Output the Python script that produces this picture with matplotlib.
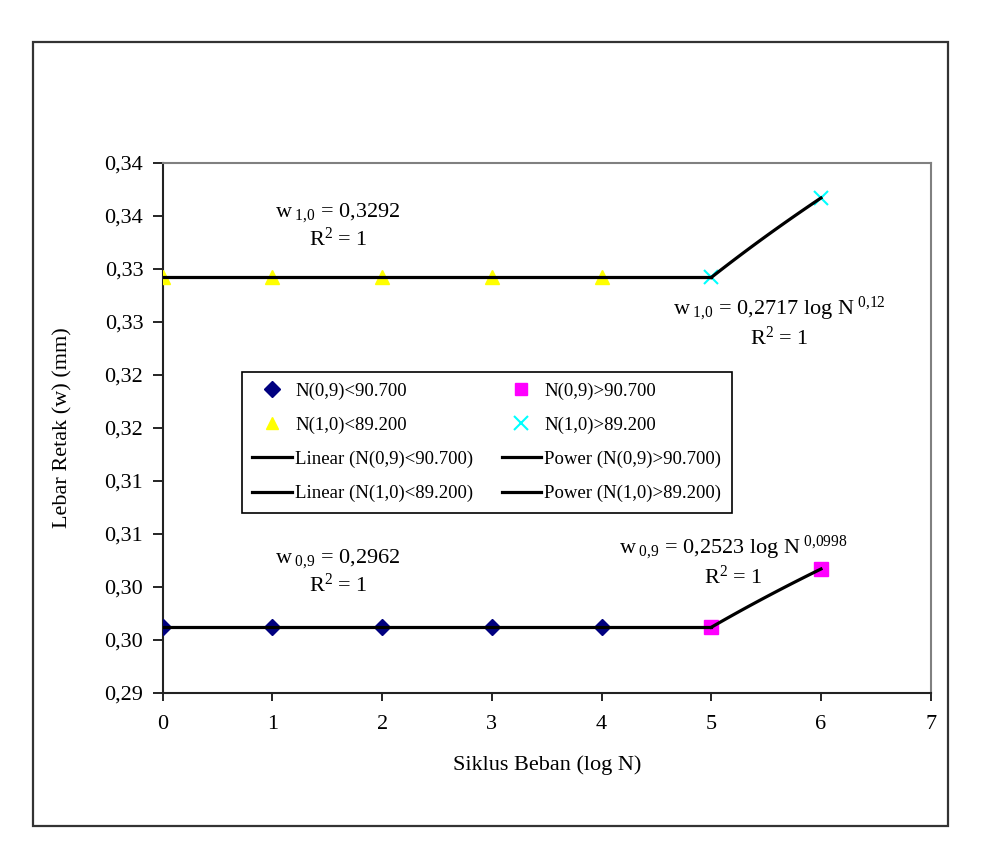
import numpy as np
import matplotlib
matplotlib.use("Agg")
import matplotlib.pyplot as plt
from matplotlib.patches import Rectangle
from matplotlib.lines import Line2D

plt.rcParams['font.family'] = ['Liberation Serif', 'DejaVu Serif']
plt.rcParams['mathtext.fontset'] = 'custom'
plt.rcParams['mathtext.rm'] = 'Liberation Serif'
plt.rcParams['mathtext.it'] = 'Liberation Serif:italic'

# data (log N vs crack width)
logN_low = [0, 1, 2, 3, 4]
w09_low = [0.2962, 0.2962, 0.2962, 0.2962, 0.2962]
w10_low = [0.3292, 0.3292, 0.3292, 0.3292, 0.3292]
logN_high = [5, 6]
w09_high = [0.2962, 0.3017]
w10_high = [0.3292, 0.3367]

xticks = [0, 1, 2, 3, 4, 5, 6, 7]
yticks = [0.29, 0.295, 0.30, 0.305, 0.31, 0.315, 0.32, 0.325, 0.33, 0.335, 0.34]
ylabels = ['0,29', '0,30', '0,30', '0,31', '0,31', '0,32', '0,32', '0,33', '0,33', '0,34', '0,34']

fs = 16
fig = plt.figure(figsize=(9.81, 8.56), dpi=100)
ax = fig.add_axes([0.1659, 0.1904, 0.9487 - 0.1659, 0.8096 - 0.1904])

# outer chart border
fig.patches.append(Rectangle((33 / 981, 1 - 826 / 856), (948 - 33) / 981, (826 - 42) / 856,
                             transform=fig.transFigure, fill=False, edgecolor='#333333', lw=1.6))

# trendlines
def lin_fit(x, y, x_end):
    p = np.polyfit(x, y, 1)
    xs = np.array([x[0], x_end])
    return xs, np.polyval(p, xs)

def pow_fit(x, y):
    b, ln_a = np.polyfit(np.log(x), np.log(y), 1)
    xs = np.linspace(x[0], x[-1], 50)
    return xs, np.exp(ln_a) * xs ** b

lw = 2.3
x1, y1 = lin_fit(logN_low, w09_low, 5)
x2, y2 = lin_fit(logN_low, w10_low, 5)
x3, y3 = pow_fit(logN_high, w09_high)
x4, y4 = pow_fit(logN_high, w10_high)

ax.plot(logN_low, w09_low, linestyle='none', marker='D', ms=8.5, color='#000080', zorder=3)
ax.plot(logN_high, w09_high, linestyle='none', marker='s', ms=9.5, color='#FF00FF', zorder=3)
ax.plot(logN_low, w10_low, linestyle='none', marker='^', ms=9.5, color='#FFFF00', zorder=3)
ax.plot(logN_high, w10_high, linestyle='none', marker='x', ms=10, mew=1.5, color='#00FFFF', zorder=3)

ax.plot(x1, y1, color='black', lw=lw, zorder=4)
ax.plot(x2, y2, color='black', lw=lw, zorder=4)
ax.plot(x3, y3, color='black', lw=lw, zorder=4)
ax.plot(x4, y4, color='black', lw=lw, zorder=4)

ax.set_xlim(0, 7)
ax.set_ylim(0.29, 0.34)
ax.set_xticks(xticks)
ax.set_xticklabels([str(t) for t in xticks], fontsize=fs)
ax.set_yticks(yticks)
ax.set_yticklabels(ylabels, fontsize=fs)
ax.tick_params(axis='x', direction='out', length=6, width=1.2, pad=10)
ax.tick_params(axis='y', direction='out', length=7, width=1.2, pad=7)
ax.spines['left'].set_color('#222222')
ax.spines['bottom'].set_color('#222222')
ax.spines['top'].set_color('#808080')
ax.spines['right'].set_color('#808080')
for s in ax.spines.values():
    s.set_linewidth(1.5)

fig.text(0.0645, 0.5, 'Lebar Retak (w) (mm)', rotation=90, ha='center', va='center', fontsize=fs)
fig.text(0.5573, 1 - 765 / 856, 'Siklus Beban (log N)', ha='center', va='center', fontsize=fs)

# equations
ax.text(1.6, 0.3341, 'w$_{\\mathregular{\\ 1{,}0}}$ = 0,3292\nR$^{\\mathregular{2}}$ = 1',
        ha='center', va='center', fontsize=fs, linespacing=1.2)
ax.text(5.62, 0.3250, 'w$_{\\mathregular{\\ 1{,}0}}$ = 0,2717 log N$^{\\mathregular{\\ 0{,}12}}$\nR$^{\\mathregular{2}}$ = 1',
        ha='center', va='center', fontsize=fs, linespacing=1.2)
ax.text(1.6, 0.3014, 'w$_{\\mathregular{\\ 0{,}9}}$ = 0,2962\nR$^{\\mathregular{2}}$ = 1',
        ha='center', va='center', fontsize=fs, linespacing=1.2)
ax.text(5.2, 0.3024, 'w$_{\\mathregular{\\ 0{,}9}}$ = 0,2523 log N$^{\\mathregular{\\ 0{,}0998}}$\nR$^{\\mathregular{2}}$ = 1',
        ha='center', va='center', fontsize=fs, linespacing=1.2)

# legend
h_d = Line2D([], [], linestyle='none', marker='D', ms=8, color='#000080')
h_s = Line2D([], [], linestyle='none', marker='s', ms=9, color='#FF00FF')
h_t = Line2D([], [], linestyle='none', marker='^', ms=9, color='#FFFF00')
h_x = Line2D([], [], linestyle='none', marker='x', ms=10, mew=1.5, color='#00FFFF')
h_l = Line2D([], [], color='black', lw=lw)
handles = [h_d, h_t, h_l, h_l, h_s, h_x, h_l, h_l]
labels = ['N(0,9)<90.700', 'N(1,0)<89.200', 'Linear (N(0,9)<90.700)', 'Linear (N(1,0)<89.200)',
          'N(0,9)>90.700', 'N(1,0)>89.200', 'Power (N(0,9)>90.700)', 'Power (N(1,0)>89.200)']
leg = fig.legend(handles, labels, ncol=2, loc='upper left',
                 bbox_to_anchor=(242 / 981, 1 - 372 / 856),
                 fontsize=13.5, frameon=True, fancybox=False, edgecolor='black',
                 framealpha=1, borderpad=0.55, labelspacing=0.9, handlelength=2.13,
                 handletextpad=0.16, columnspacing=1.5, borderaxespad=0)
leg.get_frame().set_linewidth(1.2)

fig.savefig('out.png', dpi=100)
